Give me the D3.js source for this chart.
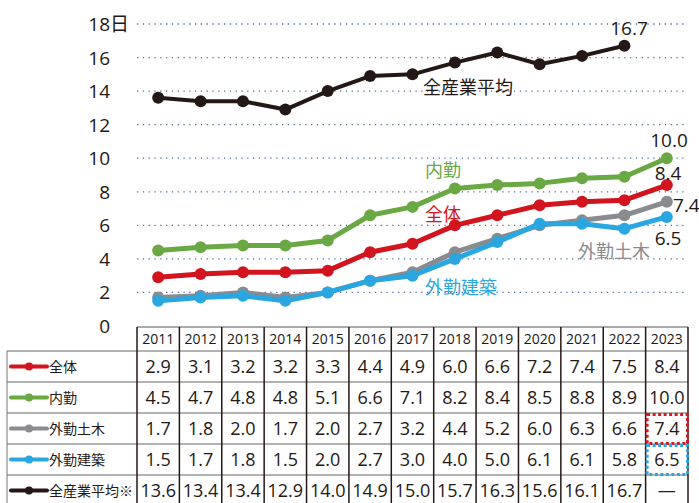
<!DOCTYPE html>
<html>
<head>
<meta charset="utf-8">
<script src="https://cdn.jsdelivr.net/npm/d3@7"></script>
<style>
  body { margin: 0; background: #fff; }
  svg { display: block; font-family: "Open Sans", "Noto Sans CJK JP", sans-serif; }
</style>
</head>
<body>
<svg id="chart" width="699" height="503"></svg>
<script>
// data
const years = ['2011', '2012', '2013', '2014', '2015', '2016', '2017', '2018', '2019', '2020', '2021', '2022', '2023'];
const zentai = [2.9, 3.1, 3.2, 3.2, 3.3, 4.4, 4.9, 6.0, 6.6, 7.2, 7.4, 7.5, 8.4];
const naikin = [4.5, 4.7, 4.8, 4.8, 5.1, 6.6, 7.1, 8.2, 8.4, 8.5, 8.8, 8.9, 10.0];
const gaikinDoboku = [1.7, 1.8, 2.0, 1.7, 2.0, 2.7, 3.2, 4.4, 5.2, 6.0, 6.3, 6.6, 7.4];
const gaikinKenchiku = [1.5, 1.7, 1.8, 1.5, 2.0, 2.7, 3.0, 4.0, 5.0, 6.1, 6.1, 5.8, 6.5];
const zensangyo = [13.6, 13.4, 13.4, 12.9, 14.0, 14.9, 15.0, 15.7, 16.3, 15.6, 16.1, 16.7, null];
const yTicks = [0, 2, 4, 6, 8, 10, 12, 14, 16, 18];

const series = [
    { name: '全体', values: zentai, color: '#d2141e', width: 5, r: 6 },
    { name: '内勤', values: naikin, color: '#6aa843', width: 5, r: 6 },
    { name: '外勤土木', values: gaikinDoboku, color: '#8a8b8f', width: 5, r: 6 },
    { name: '外勤建築', values: gaikinKenchiku, color: '#2aa6e0', width: 5, r: 6 },
    { name: '全産業平均', values: zensangyo, color: '#231815', width: 4, r: 6, note: '※' },
];
// draw order for lines (back to front)
const drawOrder = [4, 1, 0, 2, 3];

const textColor = '#231815';
const svg = d3.select('#chart');

const xScale = d3.scaleBand().domain(years).range([137, 688]).padding(0);
const xc = (y) => xScale(y) + xScale.bandwidth() / 2;
const yScale = d3.scaleLinear().domain([0, 18]).range([326, 24]);

/**
 * Gridlines
 */
svg.append('g')
    .selectAll('line')
    .data(yTicks.filter((d) => d > 0))
    .enter()
    .append('line')
    .attr('x1', 137)
    .attr('x2', 688)
    .attr('y1', (d) => yScale(d))
    .attr('y2', (d) => yScale(d))
    .attr('stroke', '#4f6fa8')
    .attr('stroke-width', 1.3)
    .attr('stroke-dasharray', '1.3,4.5');

/**
 * Y axis labels
 */
svg.append('g')
    .selectAll('text')
    .data(yTicks)
    .enter()
    .append('text')
    .attr('x', 110)
    .attr('y', (d) => yScale(d) + 7)
    .attr('text-anchor', 'end')
    .attr('font-size', 19)
    .attr('fill', textColor)
    .text((d) => d);

svg.append('text')
    .attr('x', 110)
    .attr('y', yScale(18) + 7)
    .attr('font-size', 19)
    .attr('fill', textColor)
    .text('日');

/**
 * Lines and markers
 */
const line = d3.line()
    .defined((d) => d != null)
    .x((d, i) => xc(years[i]))
    .y((d) => yScale(d));

drawOrder.forEach((k) => {
    const s = series[k];
    const g = svg.append('g');
    g.append('path')
        .datum(s.values)
        .attr('fill', 'none')
        .attr('stroke', s.color)
        .attr('stroke-width', s.width)
        .attr('stroke-linejoin', 'round')
        .attr('d', line);
    g.selectAll('circle')
        .data(s.values.map((v, i) => ({ v: v, year: years[i] })).filter((d) => d.v != null))
        .enter()
        .append('circle')
        .attr('cx', (d) => xc(d.year))
        .attr('cy', (d) => yScale(d.v))
        .attr('r', s.r)
        .attr('fill', s.color);
});

/**
 * Inline series labels
 */
const inlineLabels = [
    { text: '全産業平均', x: 423, y: 94, color: textColor },
    { text: '内勤', x: 425, y: 177, color: series[1].color },
    { text: '全体', x: 425, y: 221, color: series[0].color },
    { text: '外勤土木', x: 578, y: 258, color: series[2].color },
    { text: '外勤建築', x: 425, y: 294, color: series[3].color },
];
svg.append('g')
    .selectAll('text')
    .data(inlineLabels)
    .enter()
    .append('text')
    .attr('x', (d) => d.x)
    .attr('y', (d) => d.y)
    .attr('font-size', 18)
    .attr('fill', (d) => d.color)
    .text((d) => d.text);

/**
 * End value labels
 */
const endLabels = [
    { v: 16.7, x: 629, y: 35, anchor: 'middle' },
    { v: 10.0, x: 669, y: 147, anchor: 'middle' },
    { v: 8.4, x: 668, y: 180, anchor: 'middle' },
    { v: 7.4, x: 673, y: 212, anchor: 'start' },
    { v: 6.5, x: 668, y: 245, anchor: 'middle' },
];
svg.append('g')
    .selectAll('text')
    .data(endLabels)
    .enter()
    .append('text')
    .attr('x', (d) => d.x)
    .attr('y', (d) => d.y)
    .attr('text-anchor', (d) => d.anchor)
    .attr('font-size', 19)
    .attr('fill', textColor)
    .text((d) => d.v.toFixed(1));

/**
 * Data table
 */
const tableTop = 327;
const headerH = 24;
const rowH = 31;
const labelLeft = 7;
const tableRight = 688;
const bodyTop = tableTop + headerH;
const tableBottom = bodyTop + rowH * series.length;
const tg = svg.append('g');

// horizontal lines
tg.append('line')
    .attr('x1', 137).attr('x2', tableRight)
    .attr('y1', tableTop).attr('y2', tableTop)
    .attr('stroke', '#555').attr('stroke-width', 1);
d3.range(series.length + 1).forEach((i) => {
    tg.append('line')
        .attr('x1', labelLeft).attr('x2', tableRight)
        .attr('y1', bodyTop + i * rowH).attr('y2', bodyTop + i * rowH)
        .attr('stroke', '#666').attr('stroke-width', 1);
});

// vertical lines
tg.append('line')
    .attr('x1', labelLeft).attr('x2', labelLeft)
    .attr('y1', bodyTop).attr('y2', tableBottom)
    .attr('stroke', '#777').attr('stroke-width', 1);
years.concat(['end']).forEach((y, i) => {
    const x = i < years.length ? xScale(y) : tableRight;
    tg.append('line')
        .attr('x1', x).attr('x2', x)
        .attr('y1', tableTop).attr('y2', tableBottom)
        .attr('stroke', textColor).attr('stroke-width', 1.5);
});

// header years
tg.selectAll('.year_label')
    .data(years)
    .enter()
    .append('text')
    .attr('class', 'year_label')
    .attr('x', (d) => xc(d))
    .attr('y', tableTop + 17)
    .attr('text-anchor', 'middle')
    .attr('font-size', 14)
    .attr('fill', textColor)
    .text((d) => d);

// rows
series.forEach((s, r) => {
    const cy = bodyTop + r * rowH + rowH / 2;
    tg.append('line')
        .attr('x1', 11).attr('x2', 47)
        .attr('y1', cy).attr('y2', cy)
        .attr('stroke', s.color).attr('stroke-width', 4)
        .attr('stroke-linecap', 'round');
    tg.append('circle')
        .attr('cx', 29).attr('cy', cy).attr('r', 4)
        .attr('fill', s.color);
    tg.append('text')
        .attr('x', 49).attr('y', cy + 5)
        .attr('font-size', 14)
        .attr('fill', textColor)
        .text(s.name + (s.note || ''));
    tg.selectAll('.cell_' + r)
        .data(s.values.map((v, i) => ({ v: v, year: years[i] })))
        .enter()
        .append('text')
        .attr('class', 'cell_' + r)
        .attr('x', (d) => xc(d.year))
        .attr('y', cy + 6.5)
        .attr('text-anchor', 'middle')
        .attr('font-size', 18)
        .attr('fill', textColor)
        .text((d) => (d.v == null ? '—' : d.v.toFixed(1)));
});

// highlight boxes on 2023 cells
const highlights = [
    { row: 2, color: '#e0141e' },
    { row: 3, color: '#2aa6e0' },
];
tg.selectAll('.highlight')
    .data(highlights)
    .enter()
    .append('rect')
    .attr('class', 'highlight')
    .attr('x', xScale('2023') + 1.5)
    .attr('y', (d) => bodyTop + d.row * rowH + 1.5)
    .attr('width', xScale.bandwidth() - 2)
    .attr('height', rowH - 2)
    .attr('fill', 'none')
    .attr('stroke', (d) => d.color)
    .attr('stroke-width', 3)
    .attr('stroke-dasharray', '3,2.5');
</script>
</body>
</html>
